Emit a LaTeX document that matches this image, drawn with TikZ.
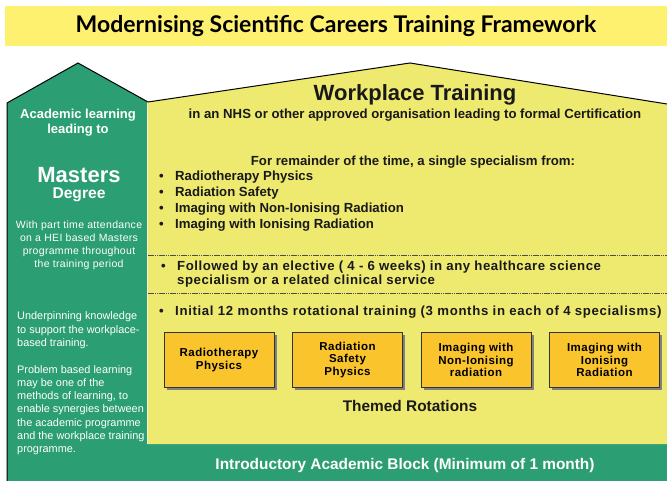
\documentclass[tikz,border=0pt]{standalone}
\usepackage{fontspec}
\setmainfont{Liberation Sans}
\newfontfamily\bannerfont{Lato}
\usetikzlibrary{shadows}

\definecolor{bannerYellow}{RGB}{255,241,112}
\definecolor{wpYellow}{RGB}{238,234,112}
\definecolor{acGreen}{RGB}{44,158,116}
\definecolor{rotGold}{RGB}{249,196,44}

\newcommand{\bul}{\makebox[17pt][l]{\hspace{1pt}\textbullet}}
\newcommand{\sz}[2]{\fontsize{#1}{#2}\selectfont}
\newcommand{\spread}[1]{\addfontfeature{LetterSpace=#1}}

\begin{document}
\begin{tikzpicture}[x=1pt,y=-1pt,
  wptext/.style={inner sep=0pt, text=black!90, font=\bfseries\sz{13.2}{16}},
  actext/.style={inner sep=0pt, text=white},
  rotbox/.style={draw=black!80, line width=0.8pt, fill=rotGold,
    minimum width=110pt, minimum height=55pt, align=center,
    font=\bfseries\sz{11.5}{12.5}\spread{4},
    drop shadow={shadow xshift=2.5pt, shadow yshift=-2.5pt, fill=black!50, opacity=1}},
  sep/.style={black!70, line width=0.8pt, dash pattern=on 1.5pt off 0.7pt}]
\useasboundingbox (0,0) rectangle (667,481);

% banner
\fill[bannerYellow] (5,6) rectangle (667,46);
\node (title) at (336,26) {\bannerfont\bfseries\sz{23}{26}Modernising Scientific Careers Training Framework};

% academic column + introductory block
\fill[acGreen] (7,481) -- (7,103) -- (78,63) -- (148,102) -- (148,444)
  -- (667,444) -- (667,481) -- cycle;
% workplace house
\fill[wpYellow] (148,444) -- (148,102) -- (410,63) -- (667,104) -- (667,444) -- cycle;
\draw[white!60!wpYellow, line width=0.7pt] (147.6,102) -- (147.6,444);
\draw[line width=1pt] (7,481) -- (7,103) -- (78,63) -- (148,102) -- (410,63) -- (667,104);

% separators
\draw[sep] (148,255) -- (667,255);
\draw[sep] (148,293) -- (667,293);

% academic side
\node[actext, align=center, font=\bfseries\sz{13}{15}] (acad) at (78,122.5) {Academic learning\\leading to};
\node[actext, font=\bfseries\sz{22}{24}] (masters) at (79,175) {Masters};
\node[actext, font=\bfseries\sz{15.6}{18}] (degree) at (79,195) {Degree};
\node[actext, align=center, font=\sz{10.5}{13}\spread{3}] (parttime) at (79,245) {With part time attendance\\on a HEI based Masters\\programme throughout\\the training period};
\node[actext, align=left, anchor=west, font=\sz{10.9}{13.3}] (underpin) at (17,383.5)
  {Underpinning knowledge\\to support the workplace-\\based training.\\[13.3pt]Problem based learning\\may be one of the\\methods of learning, to\\enable synergies between\\the academic programme\\and the workplace training\\programme.};

% workplace side
\node[wptext, font=\bfseries\sz{22}{24}] (wp) at (415,95) {Workplace Training};
\node[wptext] (nhs) at (415,115) {in an NHS or other approved organisation leading to formal Certification};
\node[wptext] (remainder) at (413,162) {For remainder of the time, a single specialism from:};
\node[wptext, align=left, anchor=west] (spec) at (158,201)
  {\bul Radiotherapy Physics\\\bul Radiation Safety\\\bul Imaging with Non-Ionising Radiation\\\bul Imaging with Ionising Radiation};
\node[wptext, align=left, anchor=west, font=\bfseries\sz{13.2}{11.5}\spread{4}] (elective) at (160,274)
  {\bul Followed by an elective ( 4 - 6 weeks) in any healthcare science\\\hspace*{17pt}specialism or a related clinical service};
\node[wptext, anchor=west, font=\bfseries\sz{13.2}{16}\spread{5}] (initial) at (158,312) {\bul Initial 12 months rotational training (3 months in each of 4 specialisms)};

% themed rotations
\node[rotbox] (rt) at (219,360) {Radiotherapy\\Physics};
\node[rotbox] (rs) at (347.5,360) {Radiation\\Safety\\Physics};
\node[rotbox] (nir) at (476,360) {Imaging with\\Non-Ionising\\radiation};
\node[rotbox] (ir) at (604.5,360) {Imaging with\\Ionising\\Radiation};
\node[wptext, font=\bfseries\sz{15.4}{17}] (themed) at (410,406) {Themed Rotations};

% introductory block
\node[actext, font=\bfseries\sz{15.4}{18}] (intro) at (405,466) {Introductory Academic Block (Minimum of 1 month)};
\end{tikzpicture}
\end{document}
